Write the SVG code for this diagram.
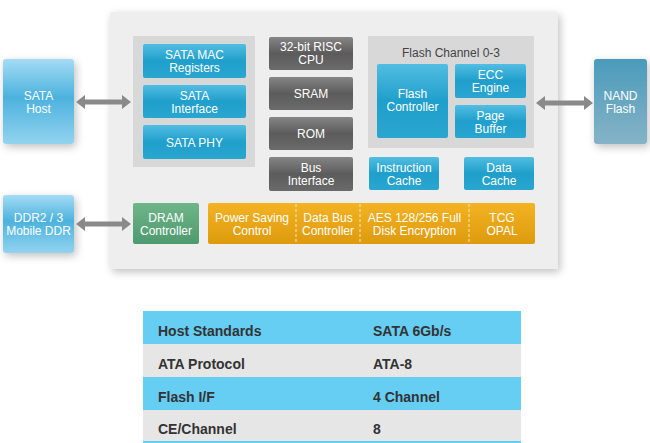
<svg xmlns="http://www.w3.org/2000/svg" width="650" height="443" viewBox="0 0 650 443">
<defs>
<linearGradient id="gBlue" x1="0" y1="0" x2="0" y2="1"><stop offset="0" stop-color="#52bde3"/><stop offset="0.5" stop-color="#1f9fcb"/><stop offset="1" stop-color="#2aa6d0"/></linearGradient>
<linearGradient id="gLight" x1="0" y1="0" x2="0" y2="1"><stop offset="0" stop-color="#a4dcf5"/><stop offset="0.45" stop-color="#4cb2dd"/><stop offset="1" stop-color="#92d3f0"/></linearGradient>
<linearGradient id="gGray" x1="0" y1="0" x2="0" y2="1"><stop offset="0" stop-color="#858585"/><stop offset="0.5" stop-color="#5c5c5c"/><stop offset="1" stop-color="#6a6a6a"/></linearGradient>
<linearGradient id="gGreen" x1="0" y1="0" x2="0" y2="1"><stop offset="0" stop-color="#6fb58a"/><stop offset="1" stop-color="#4e9a6e"/></linearGradient>
<linearGradient id="gOrange" x1="0" y1="0" x2="0" y2="1"><stop offset="0" stop-color="#f3b323"/><stop offset="1" stop-color="#dd9a0e"/></linearGradient>
<linearGradient id="gNand" x1="0" y1="0" x2="0" y2="1"><stop offset="0" stop-color="#4a9bbb"/><stop offset="1" stop-color="#86b3c6"/></linearGradient>
<filter id="sh" x="-20%" y="-20%" width="140%" height="140%"><feGaussianBlur in="SourceAlpha" stdDeviation="4"/><feOffset dx="2" dy="3"/><feComponentTransfer><feFuncA type="linear" slope="0.25"/></feComponentTransfer><feMerge><feMergeNode/><feMergeNode in="SourceGraphic"/></feMerge></filter>
</defs>
<style>
text{font-family:"Liberation Sans",Arial,sans-serif;font-size:12px;text-anchor:middle;fill:#fff}
.t{font-size:14px;font-weight:bold;fill:#333;text-anchor:start}
.lbl{fill:#444;font-size:12px}
.arr{fill:#8a8a8a}
.div{stroke:#fbe7b8;stroke-width:1;stroke-dasharray:3,2}
</style>
<rect width="650" height="443" fill="#fff"/>
<g id="panel"><rect x="110" y="12" width="448" height="257" rx="2" fill="#eeeeef" filter="url(#sh)"/></g>
<g id="sata-group"><rect x="133" y="36" width="122" height="131" fill="#d8d8d9"/></g>
<g id="flash-group"><rect x="368" y="36" width="166" height="112" fill="#d8d8d9"/><text class="lbl" x="451" y="57">Flash Channel 0-3</text></g>
<g id="sata-host"><rect x="3" y="59" width="71" height="85" rx="3" fill="url(#gLight)" filter="url(#sh)"/><text x="38.5" y="100">SATA</text><text x="38.5" y="113">Host</text></g>
<g id="ddr"><rect x="3" y="195" width="71" height="58" rx="3" fill="url(#gLight)" filter="url(#sh)"/><text x="38.5" y="222">DDR2 / 3</text><text x="38.5" y="235">Mobile DDR</text></g>
<g id="nand"><rect x="594" y="59" width="53" height="85" rx="3" fill="url(#gNand)" filter="url(#sh)"/><text x="620.5" y="100">NAND</text><text x="620.5" y="113">Flash</text></g>
<g id="sata-mac"><rect x="143" y="44" width="103" height="34" rx="2" fill="url(#gBlue)"/><text x="194.5" y="59">SATA MAC</text><text x="194.5" y="72">Registers</text></g>
<g id="sata-if"><rect x="143" y="85" width="103" height="33" rx="2" fill="url(#gBlue)"/><text x="194.5" y="100">SATA</text><text x="194.5" y="113">Interface</text></g>
<g id="sata-phy"><rect x="143" y="125" width="103" height="34" rx="2" fill="url(#gBlue)"/><text x="194.5" y="147">SATA PHY</text></g>
<g id="cpu"><rect x="269" y="37" width="84" height="33" rx="2" fill="url(#gGray)"/><text x="311" y="51">32-bit RISC</text><text x="311" y="64">CPU</text></g>
<g id="sram"><rect x="269" y="77" width="84" height="33" rx="2" fill="url(#gGray)"/><text x="311" y="98">SRAM</text></g>
<g id="rom"><rect x="269" y="117" width="84" height="33" rx="2" fill="url(#gGray)"/><text x="311" y="138">ROM</text></g>
<g id="bus"><rect x="269" y="157" width="84" height="34" rx="2" fill="url(#gGray)"/><text x="311" y="172">Bus</text><text x="311" y="185">Interface</text></g>
<g id="flash-ctrl"><rect x="377" y="64" width="71" height="74" rx="2" fill="url(#gBlue)"/><text x="412.5" y="98">Flash</text><text x="412.5" y="111">Controller</text></g>
<g id="ecc"><rect x="455" y="64" width="71" height="34" rx="2" fill="url(#gBlue)"/><text x="490.5" y="79">ECC</text><text x="490.5" y="92">Engine</text></g>
<g id="page"><rect x="455" y="105" width="71" height="33" rx="2" fill="url(#gBlue)"/><text x="490.5" y="120">Page</text><text x="490.5" y="133">Buffer</text></g>
<g id="icache"><rect x="369" y="157" width="70" height="33" rx="2" fill="url(#gBlue)"/><text x="404" y="172">Instruction</text><text x="404" y="185">Cache</text></g>
<g id="dcache"><rect x="464" y="157" width="70" height="33" rx="2" fill="url(#gBlue)"/><text x="499" y="172">Data</text><text x="499" y="185">Cache</text></g>
<g id="dram"><rect x="133" y="203" width="66" height="41" rx="2" fill="url(#gGreen)"/><text x="166" y="222">DRAM</text><text x="166" y="235">Controller</text></g>
<g id="orange-bar"><rect x="208" y="203" width="327" height="41" rx="2" fill="url(#gOrange)"/>
<line class="div" x1="296" y1="204" x2="296" y2="243"/><line class="div" x1="360" y1="204" x2="360" y2="243"/><line class="div" x1="469" y1="204" x2="469" y2="243"/></g>
<g id="power"><text x="252" y="222">Power Saving</text><text x="252" y="235">Control</text></g>
<g id="databus"><text x="328" y="222">Data Bus</text><text x="328" y="235">Controller</text></g>
<g id="aes"><text x="414.5" y="222">AES 128/256 Full</text><text x="414.5" y="235">Disk Encryption</text></g>
<g id="tcg"><text x="502" y="222">TCG</text><text x="502" y="235">OPAL</text></g>
<g id="connectors">
<polygon class="arr" points="76,102 85,95 85,99.5 122,99.5 122,95 131,102 122,109 122,104.5 85,104.5 85,109"/>
<polygon class="arr" points="76,224 85,217 85,221.5 122,221.5 122,217 131,224 122,231 122,226.5 85,226.5 85,231"/>
<polygon class="arr" points="536,103 545,96 545,100.5 584,100.5 584,96 593,103 584,110 584,105.5 545,105.5 545,110"/>
</g>
<g id="table">
<rect x="143" y="311" width="378" height="33" fill="#66cdf3"/>
<rect x="143" y="344" width="378" height="33" fill="#e6e6e6"/>
<rect x="143" y="377" width="378" height="33" fill="#66cdf3"/>
<rect x="143" y="410" width="378" height="32" fill="#e6e6e6"/>
<rect x="143" y="441" width="378" height="2" fill="#66cdf3"/>
<text class="t" x="158" y="336">Host Standards</text><text class="t" x="373" y="336">SATA 6Gb/s</text>
<text class="t" x="158" y="369">ATA Protocol</text><text class="t" x="373" y="369">ATA-8</text>
<text class="t" x="158" y="402">Flash I/F</text><text class="t" x="373" y="402">4 Channel</text>
<text class="t" x="158" y="434">CE/Channel</text><text class="t" x="373" y="434">8</text>
</g>
</svg>
